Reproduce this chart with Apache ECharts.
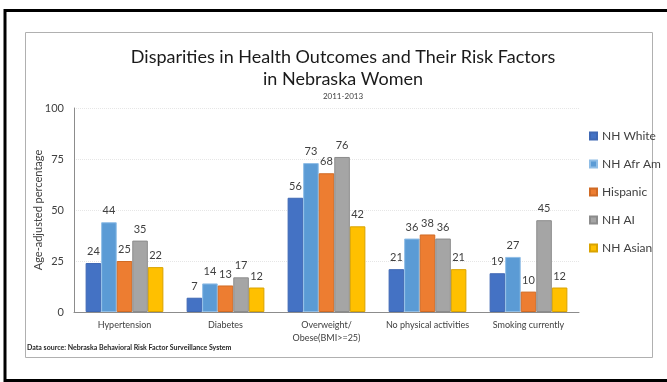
<!DOCTYPE html>
<html>
<head>
<meta charset="utf-8">
<style>
  html, body { margin: 0; padding: 0; background: #fff; }
  #chart { width: 667px; height: 382px; }
</style>
<script src="https://cdn.jsdelivr.net/npm/echarts@6/dist/echarts.min.js"></script>
</head>
<body>
<div id="chart"></div>
<script>
// Outcome categories along the x axis
const categories = ['Hypertension', 'Diabetes', 'Overweight/\nObese(BMI>=25)', 'No physical activities', 'Smoking currently'];

// Age-adjusted percentages per population group
const nhWhite  = [24, 7, 56, 21, 19];
const nhAfrAm  = [44, 14, 73, 36, 27];
const hispanic = [25, 13, 68, 38, 10];
const nhAI     = [35, 17, 76, 36, 45];
const nhAsian  = [22, 12, 42, 21, 12];

const groupNames = ['NH White', 'NH Afr Am', 'Hispanic', 'NH AI', 'NH Asian'];
const groupValues = [nhWhite, nhAfrAm, hispanic, nhAI, nhAsian];
const groupColors = ['#4472C4', '#5B9BD5', '#ED7D31', '#A5A5A5', '#FFC000'];
const groupBorders = ['#3f68b4', '#8fbde6', '#d06a24', '#8c8c8c', '#d9a300'];

const yTicks = [0, 25, 50, 75, 100];

const FONT = 'Lato, "Open Sans", sans-serif';

const chart = echarts.init(document.getElementById('chart'), null, { renderer: 'canvas' });

const series = groupNames.map((name, i) => ({
  name: name,
  type: 'bar',
  data: groupValues[i],
  barGap: '0%',
  barCategoryGap: '23%',
  itemStyle: { color: groupColors[i], borderColor: groupBorders[i], borderWidth: 1 },
  label: {
    show: true,
    position: 'top',
    distance: 6,
    color: '#404040',
    fontFamily: FONT,
    fontSize: 11
  }
}));

chart.setOption({
  animation: false,
  backgroundColor: '#ffffff',
  title: {
    text: 'Disparities in Health Outcomes and Their Risk Factors\nin Nebraska Women',
    subtext: '2011-2013',
    left: 338,
    textAlign: 'center',
    top: 41,
    itemGap: 2,
    textStyle: { fontFamily: FONT, fontSize: 18, fontWeight: 'normal', color: '#1a1a1a', lineHeight: 22 },
    subtextStyle: { fontFamily: FONT, fontSize: 8, color: '#404040' }
  },
  legend: {
    orient: 'vertical',
    left: 584,
    top: 125,
    itemWidth: 7,
    itemHeight: 7,
    itemGap: 16,
    icon: 'rect',
    textStyle: { fontFamily: FONT, fontSize: 12, color: '#404040' },
    data: groupNames
  },
  grid: { left: 74, right: 88, top: 108, bottom: 70 },
  xAxis: {
    type: 'category',
    data: categories,
    axisLine: { lineStyle: { color: '#8c8c8c', width: 1 } },
    axisTick: { show: false },
    axisLabel: { fontFamily: FONT, fontSize: 9, color: '#404040', interval: 0, margin: 7, lineHeight: 13 }
  },
  yAxis: {
    type: 'value',
    min: yTicks[0],
    max: yTicks[yTicks.length - 1],
    interval: 25,
    name: 'Age-adjusted percentage',
    nameLocation: 'middle',
    nameGap: 30,
    nameMoveOverlap: false,
    nameTextStyle: { fontFamily: FONT, fontSize: 11, color: '#404040' },
    axisLine: { show: true, lineStyle: { color: '#8c8c8c', width: 1 } },
    axisTick: { show: false },
    axisLabel: { fontFamily: FONT, fontSize: 11, color: '#404040', margin: 10 },
    splitLine: { lineStyle: { color: '#e6e6e6', type: 'dotted', width: 1 } }
  },
  graphic: [
    {
      type: 'rect',
      shape: { x: 5, y: 10.5, width: 680, height: 370 },
      style: { fill: 'none', stroke: '#000000', lineWidth: 3 },
      silent: true, z: -1
    },
    {
      type: 'rect',
      shape: { x: 25.5, y: 32.5, width: 627, height: 325 },
      style: { fill: 'none', stroke: '#b0b0b0', lineWidth: 1 },
      silent: true, z: -1
    },
    {
      type: 'text',
      left: 27,
      top: 344,
      style: {
        text: 'Data source: Nebraska Behavioral Risk Factor Surveillance System',
        fontFamily: FONT,
        fontSize: 7,
        fontWeight: 'bold',
        fill: '#262626'
      }
    }
  ],
  series: series
});
</script>
</body>
</html>
